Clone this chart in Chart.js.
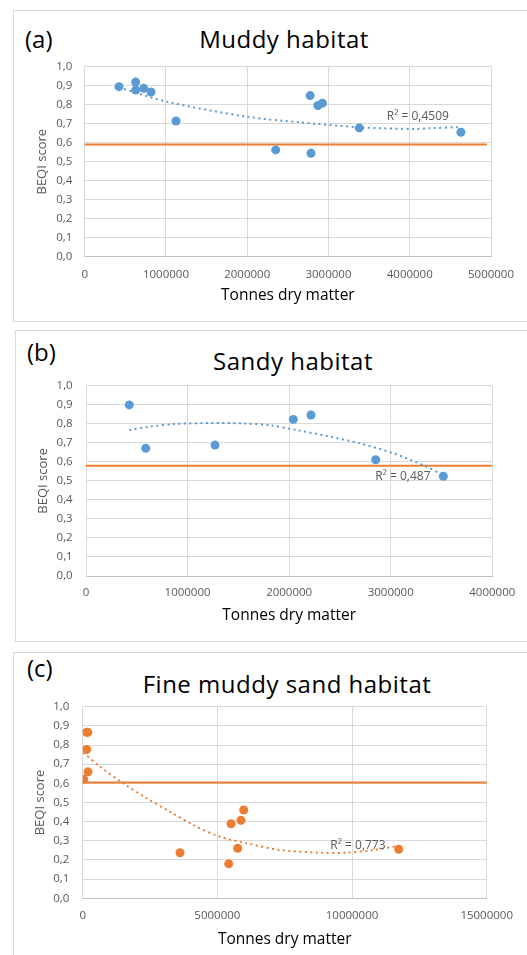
<!DOCTYPE html>
<html>
<head>
<meta charset="utf-8">
<script src="https://cdn.jsdelivr.net/npm/chart.js@4.4.0/dist/chart.umd.min.js"></script>
<style>
  html, body { margin: 0; padding: 0; background: #fff; width: 527px; height: 955px; overflow: hidden; position: relative; font-family: "Open Sans", sans-serif; }
  .panel { position: absolute; border: 1px solid #d9d9d9; box-sizing: border-box; width: 600px; }
  .lbl { position: absolute; font-size: 24px; line-height: 24px; color: #000; white-space: nowrap; }
  .ttl { position: absolute; font-size: 24px; line-height: 24px; color: #000; white-space: nowrap; transform: translateX(-50%); letter-spacing: 0.5px; }
  canvas { position: absolute; left: 0; }
</style>
</head>
<body>
<div class="panel" style="left:13px; top:10px; height:312px;"></div>
<div class="panel" style="left:15px; top:330px; height:312px;"></div>
<div class="panel" style="left:13px; top:652px; height:400px;"></div>

<div class="lbl" style="left:25px; top:27px;">(a)</div>
<div class="ttl" style="left:284px; top:27px;">Muddy habitat</div>
<div class="lbl" style="left:27px; top:340px;">(b)</div>
<div class="ttl" style="left:293px; top:349px;">Sandy habitat</div>
<div class="lbl" style="left:27px; top:656px;">(c)</div>
<div class="ttl" style="left:287px; top:672px;">Fine muddy sand habitat</div>

<canvas id="cA" width="527" height="312" style="top:10px;"></canvas>
<canvas id="cB" width="527" height="312" style="top:330px;"></canvas>
<canvas id="cC" width="527" height="303" style="top:652px;"></canvas>

<script>
// ---------- data ----------
// (a) Muddy habitat
const muddyX = [422000, 627000, 627000, 726000, 816000, 1124000, 2350000, 2775000, 2785000, 2870000, 2925000, 3380000, 4630000];
const muddyY = [0.895, 0.919, 0.877, 0.886, 0.867, 0.714, 0.562, 0.848, 0.544, 0.796, 0.808, 0.678, 0.655];
const muddyTrendX = [422000, 1009000, 1993000, 2650000, 3388000, 4085000, 4249000, 4606000];
const muddyTrendY = [0.891, 0.816, 0.737, 0.707, 0.681, 0.672, 0.676, 0.682];
const muddyThreshold = 0.59;
const muddyR2 = "R\u00B2 = 0,4509";
const muddyXTicks = [0, 1000000, 2000000, 3000000, 4000000, 5000000];

// (b) Sandy habitat
const sandyX = [426000, 588000, 1270000, 2041000, 2215000, 2852000, 3518000];
const sandyY = [0.899, 0.671, 0.688, 0.823, 0.846, 0.611, 0.524];
const sandyTrendX = [426000, 630000, 893000, 1221000, 1549000, 1811000, 2074000, 2369000, 2697000, 3025000, 3354000, 3518000];
const sandyTrendY = [0.767, 0.785, 0.799, 0.804, 0.802, 0.792, 0.767, 0.736, 0.697, 0.645, 0.574, 0.530];
const sandyThreshold = 0.58;
const sandyR2 = "R\u00B2 = 0,487";
const sandyXTicks = [0, 1000000, 2000000, 3000000, 4000000];

// (c) Fine muddy sand habitat
const fineX = [145000, 190000, 148000, 197000, 37000, 3613000, 5421000, 5507000, 5755000, 5878000, 5978000, 11733000];
const fineY = [0.866, 0.866, 0.777, 0.660, 0.621, 0.238, 0.180, 0.389, 0.261, 0.407, 0.461, 0.256];
const fineTrendX = [22000, 642000, 1508000, 2376000, 3241000, 4107000, 5098000, 6089000, 7326000, 8812000, 9802000, 10790000, 11700000];
const fineTrendY = [0.760, 0.687, 0.600, 0.522, 0.452, 0.382, 0.321, 0.287, 0.252, 0.238, 0.238, 0.252, 0.273];
const fineThreshold = 0.605;
const fineR2 = "R\u00B2 = 0,773";
const fineXTicks = [0, 5000000, 10000000, 15000000];

const yTicks = [0, 0.1, 0.2, 0.3, 0.4, 0.5, 0.6, 0.7, 0.8, 0.9, 1.0];

// ---------- styling ----------
const BLUE = '#5B9BD5';
const ORANGE = '#ED7D31';
const GRID = '#d9d9d9';
const TICK = '#595959';
const FONT = '"Open Sans", sans-serif';

const r2Plugin = {
  id: 'r2label',
  afterDatasetsDraw(chart, args, opts) {
    if (!opts || !opts.text) return;
    const {ctx, scales} = chart;
    ctx.save();
    ctx.font = '12px ' + FONT;
    ctx.fillStyle = TICK;
    ctx.textAlign = 'center';
    ctx.textBaseline = 'middle';
    ctx.fillText(opts.text, scales.x.getPixelForValue(opts.x), scales.y.getPixelForValue(opts.y));
    ctx.restore();
  }
};

function zip(xs, ys) { return xs.map((x, i) => ({x: x, y: ys[i]})); }

function makeChart(id, cfg) {
  const xmax = cfg.xTicks[cfg.xTicks.length - 1];
  const step = cfg.xTicks[1] - cfg.xTicks[0];
  return new Chart(document.getElementById(id), {
    type: 'scatter',
    data: {
      datasets: [
        { label: 'points', data: zip(cfg.px, cfg.py), backgroundColor: cfg.color, borderWidth: 0, pointRadius: 4.5, pointHoverRadius: 4.5 },
        { label: 'trend', type: 'line', data: zip(cfg.tx, cfg.ty), borderColor: cfg.color, borderWidth: 2, borderDash: [2, 3.5], pointRadius: 0, tension: 0.3, fill: false },
        { label: 'threshold', type: 'line', data: [{x: 0, y: cfg.thr}, {x: cfg.thrEnd, y: cfg.thr}], borderColor: ORANGE, borderWidth: 2, pointRadius: 0, fill: false }
      ]
    },
    options: {
      responsive: false,
      animation: false,
      devicePixelRatio: 1,
      layout: { padding: { top: cfg.padTop, right: cfg.padRight, bottom: 0, left: 0 } },
      plugins: {
        legend: { display: false },
        tooltip: { enabled: false },
        r2label: { text: cfg.r2, x: cfg.r2x, y: cfg.r2y }
      },
      scales: {
        x: {
          type: 'linear', min: 0, max: xmax,
          afterFit: s => { s.height = cfg.xH; },
          afterBuildTicks: s => { s.ticks = cfg.xTicks.map(v => ({value: v})); },
          ticks: { stepSize: step, color: TICK, font: { family: FONT, size: 11.5 }, padding: cfg.xTickPad, maxRotation: 0, callback: v => String(v) },
          grid: { color: GRID, drawTicks: false, lineWidth: 1 },
          border: { color: '#bfbfbf' },
          title: { display: true, text: 'Tonnes dry matter', color: '#000', font: { family: FONT, size: 15.5 }, padding: { top: 0, bottom: cfg.xTitlePad } }
        },
        y: {
          type: 'linear', min: 0, max: 1,
          afterFit: s => { s.width = cfg.yW; },
          afterBuildTicks: s => { s.ticks = yTicks.map(v => ({value: v})); },
          ticks: { stepSize: 0.1, color: TICK, font: { family: FONT, size: 11.5 }, padding: cfg.yTickPad, callback: v => v.toFixed(1).replace('.', ',') },
          grid: { color: GRID, drawTicks: false, lineWidth: 1 },
          border: { color: GRID },
          title: { display: true, text: 'BEQI score', color: TICK, font: { family: FONT, size: 13 }, padding: { top: cfg.yTitlePad, bottom: 0 } }
        }
      }
    },
    plugins: [r2Plugin]
  });
}

makeChart('cA', {
  px: muddyX, py: muddyY, tx: muddyTrendX, ty: muddyTrendY, thr: muddyThreshold, thrEnd: 4950000,
  xTicks: muddyXTicks, color: BLUE, r2: muddyR2, r2x: 4100000, r2y: 0.74,
  padTop: 56.7, padRight: 36, xH: 65.3, yW: 84.7, xTickPad: 11, xTitlePad: 16.7, yTickPad: 12.4, yTitlePad: 34.7
});
makeChart('cB', {
  px: sandyX, py: sandyY, tx: sandyTrendX, ty: sandyTrendY, thr: sandyThreshold, thrEnd: 4000000,
  xTicks: sandyXTicks, color: BLUE, r2: sandyR2, r2x: 3120000, r2y: 0.525,
  padTop: 55.7, padRight: 34.7, xH: 66, yW: 86, xTickPad: 10, xTitlePad: 17.4, yTickPad: 13.3, yTitlePad: 35.2
});
makeChart('cC', {
  px: fineX, py: fineY, tx: fineTrendX, ty: fineTrendY, thr: fineThreshold, thrEnd: 15000000,
  xTicks: fineXTicks, color: ORANGE, r2: fineR2, r2x: 10220000, r2y: 0.274,
  padTop: 54.7, padRight: 40.3, xH: 56.7, yW: 82.7, xTickPad: 11, xTitlePad: 5.7, yTickPad: 13.4, yTitlePad: 32.9
});
</script>
</body>
</html>
